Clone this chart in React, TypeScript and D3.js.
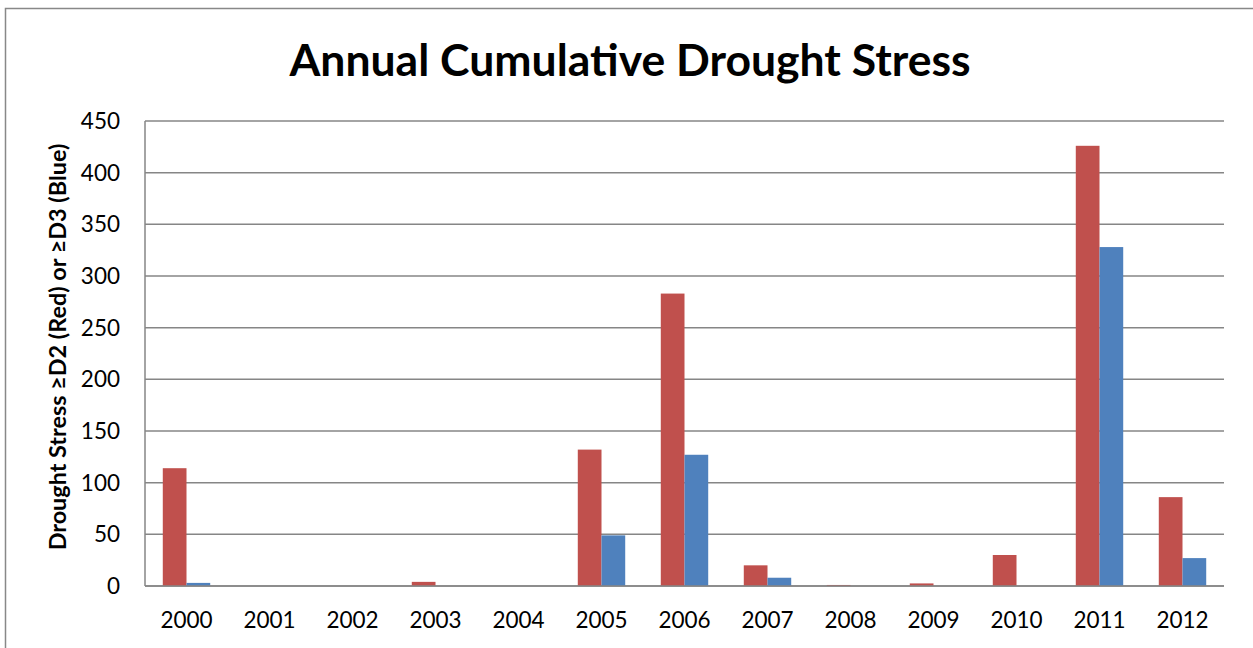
import React from "react";
import * as d3 from "d3";

const years = ["2000","2001","2002","2003","2004","2005","2006","2007","2008","2009","2010","2011","2012"];
const redValues = [114, 0, 0, 4, 0, 132, 283, 20, 1, 2.5, 30, 426, 86];
const blueValues = [3, 0, 0, 0, 0, 49, 127, 8, 0, 0, 0, 328, 27];
const yTicks = [0, 50, 100, 150, 200, 250, 300, 350, 400, 450];

const W = 1253, H = 648;
const left = 145, right = 1224, top = 121, bottom = 586;
const FONT = "Lato, 'Open Sans', sans-serif";

export default function App() {
  const x = d3.scaleBand<string>().domain(years).range([left, right]).paddingInner(0).paddingOuter(0);
  const bw = x.bandwidth() / 3.5;
  const y = d3.scaleLinear().domain([0, 450]).range([bottom, top]);
  return (
    <div style={{ position: "absolute", left: 0, top: 0 }}>
      <svg width={W} height={H} style={{ display: "block", background: "#fff" }}>
        <rect x={5.5} y={8.5} width={W + 20} height={H + 20} fill="#fff" stroke="#888" strokeWidth={1.5} />
        <text x={630} y={76} textAnchor="middle" fontFamily={FONT} fontWeight="bold" fontSize={44.5} fill="#000">
          Annual Cumulative Drought Stress
        </text>
        {yTicks.map((t) => (
          <g key={t}>
            <line x1={left} x2={right} y1={y(t)} y2={y(t)} stroke="#868686" strokeWidth={1.5} />
            <text x={120} y={y(t)} dy="0.35em" textAnchor="end" fontFamily={FONT} fontSize={22.5} fill="#000">{t}</text>
          </g>
        ))}
        <line x1={left} x2={left} y1={top} y2={bottom} stroke="#868686" strokeWidth={1.5} />
        {years.map((yr, i) => {
          const x0 = (x(yr) as number) + bw * 0.75;
          return (
            <g key={yr}>
              {redValues[i] > 0 && (
                <rect x={x0} y={y(redValues[i])} width={bw} height={bottom - y(redValues[i])} fill="#C0504D" />
              )}
              {blueValues[i] > 0 && (
                <rect x={x0 + bw} y={y(blueValues[i])} width={bw} height={bottom - y(blueValues[i])} fill="#4F81BD" />
              )}
              <text x={(x(yr) as number) + x.bandwidth() / 2} y={628} textAnchor="middle" fontFamily={FONT} fontSize={22.5} fill="#000">{yr}</text>
            </g>
          );
        })}
        <line x1={left} x2={right} y1={bottom} y2={bottom} stroke="#868686" strokeWidth={1.5} />
        <text transform={`translate(66,${347}) rotate(-90)`} textAnchor="middle" fontFamily={FONT} fontWeight="bold" fontSize={23.4} fill="#000">
          Drought Stress ≥D2 (Red) or ≥D3 (Blue)
        </text>
      </svg>
    </div>
  );
}
